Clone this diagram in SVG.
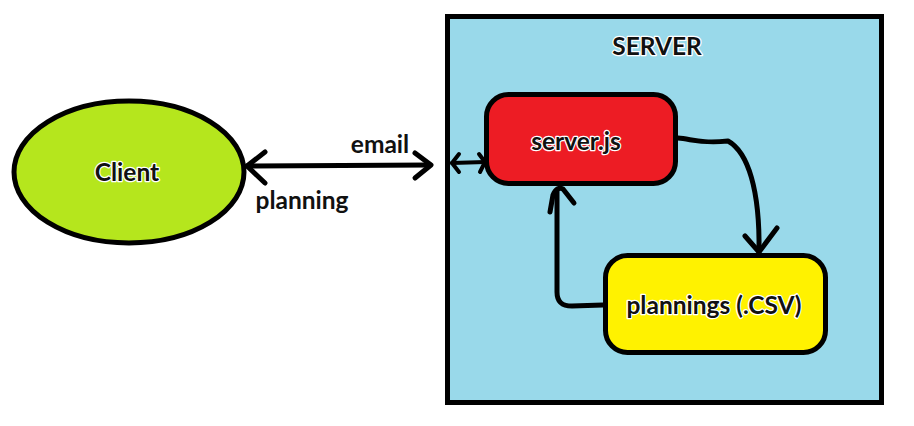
<svg xmlns="http://www.w3.org/2000/svg" width="914" height="426" viewBox="0 0 914 426">
<style>
  .lbl{font-family:Lato,"Open Sans","Liberation Sans",sans-serif;font-weight:bold;font-size:24.5px;fill:#111;}
  .halo{stroke:#fff;stroke-width:2.5px;paint-order:stroke;stroke-linejoin:round;}
  .shape{stroke:#000;stroke-width:5;}
  .con{fill:none;stroke:#000;stroke-width:5;stroke-linecap:round;stroke-linejoin:round;}
  .conThin{fill:none;stroke:#000;stroke-width:4;stroke-linecap:round;stroke-linejoin:round;}
</style>
<rect width="914" height="426" fill="#fff"/>
<g id="server">
  <rect class="shape" x="447.5" y="16.5" width="434" height="386" fill="#99d9ea"/>
  <text class="lbl halo" x="657" y="55" text-anchor="middle">SERVER</text>
</g>
<g id="client">
  <ellipse class="shape" cx="129" cy="172" rx="115" ry="71" fill="#b5e61d"/>
  <text class="lbl halo" x="127" y="181" text-anchor="middle">Client</text>
</g>
<g id="serverjs">
  <rect class="shape" x="486.5" y="94.5" width="189" height="89" rx="22" ry="22" fill="#ed1c24"/>
  <text class="lbl halo" x="576" y="150" text-anchor="middle">server.js</text>
</g>
<g id="csv">
  <rect class="shape" x="605.5" y="255.5" width="220" height="97" rx="22" ry="22" fill="#fff200"/>
  <text class="lbl halo" x="714" y="314" text-anchor="middle">plannings (.CSV)</text>
</g>
<g id="connectors">
  <path class="con" d="M247,166 L430,165"/>
  <path class="con" d="M265,152 L247,166 L265,183"/>
  <path class="con" d="M415,153 L431,165 L415,178"/>
  <text class="lbl" x="380" y="153" text-anchor="middle">email</text>
  <text class="lbl" x="302" y="209" text-anchor="middle">planning</text>
  <path class="conThin" d="M452,163 L485,162"/>
  <path class="conThin" d="M459,154 L452,163 L459,172"/>
  <path class="conThin" d="M479,154 L485,162 L480,172"/>
  <path class="con" d="M678,138 C692,139 700,144 728,141 C748,152 760,190 759,252"/>
  <path class="con" d="M745,236 L759,252 L777,228"/>
  <path class="con" d="M603,305 L572,306 C562,306 557,302 557,292 L557,190"/>
  <path class="con" d="M550,212 L553,195 Q557,186 563,189 L574,203"/>
</g>
</svg>
